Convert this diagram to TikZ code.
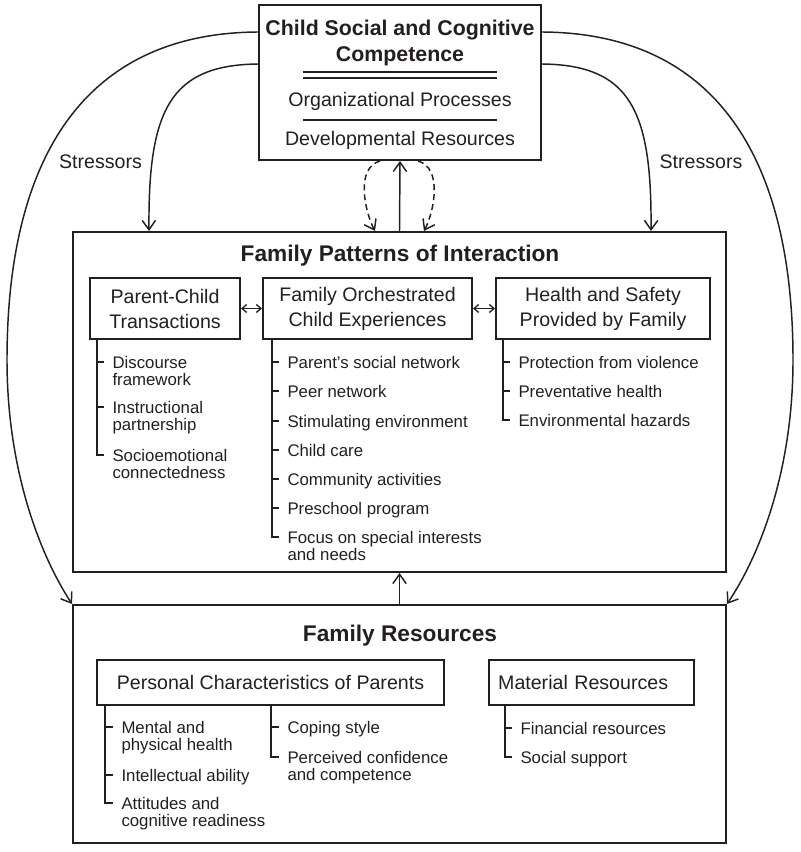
\documentclass[tikz,border=0pt]{standalone}
\usepackage{fontspec}
\setmainfont{Liberation Sans}
\usetikzlibrary{arrows.meta,calc}
\definecolor{ink}{RGB}{35,31,32}
\tikzset{every picture/.style={line width=0.75pt}}
\tikzset{
  panel/.style={draw=ink, line width=1.5pt, inner sep=0pt},
  boxtext/.style={text=ink, inner sep=0pt, align=center, font=\fontsize{14.7}{18.75}\selectfont},
  heading/.style={text=ink, inner sep=0pt, font=\bfseries\fontsize{17}{20}\selectfont},
  listitem/.style={text=ink, inner sep=0pt, anchor=base west, align=left, font=\fontsize{12.6}{12.75}\selectfont},
  rail/.style={draw=ink, line width=1.1pt},
  flow/.style={draw=ink, line width=1.1pt, -{Straight Barb[length=7pt,width=10pt]}},
  twoway/.style={draw=ink, line width=1pt, {Straight Barb[length=3.5pt,width=6pt]}-{Straight Barb[length=3.5pt,width=6pt]}}
}

\begin{document}
\begin{tikzpicture}[x=0.75pt,y=0.75pt,yscale=-1,xscale=1]
\useasboundingbox (0,0) rectangle (800,852);

%Shape: Rectangle
\node [panel, minimum width=211.5pt, minimum height=116.25pt] (top) at (400,82.5) {};
% Text Node
\node [boxtext, font=\bfseries\fontsize{16}{19.5}\selectfont] (competence) at (400,42.5) {Child Social and Cognitive\\Competence};
% Text Node
\node [boxtext, anchor=base] (orgproc) at (400,107) {Organizational Processes};
% Text Node
\node [boxtext, anchor=base] (devres) at (400,146) {Developmental Resources};
%Straight Lines
\draw [rail, line width=0.9pt] (303,72) -- (497,72);
\draw [rail, line width=0.9pt] (303,78) -- (497,78);
\draw [rail, line width=0.9pt] (303,120) -- (497,120);

%Shape: Rectangle
\node [panel, minimum width=489.75pt, minimum height=255pt] (patterns) at (399.5,402) {};
% Text Node
\node [heading, anchor=base] (patternstitle) at (400,262) {Family Patterns of Interaction};
%Shape: Rectangle
\node [panel, boxtext, minimum width=112.5pt, minimum height=45.75pt] (pc) at (165,308.5) {Parent-Child\\Transactions};
%Shape: Rectangle
\node [panel, boxtext, minimum width=156.75pt, minimum height=45.75pt] (foc) at (367.5,308.5) {Family Orchestrated\\Child Experiences};
%Shape: Rectangle
\node [panel, boxtext, minimum width=160.5pt, minimum height=45.75pt] (hs) at (603,308.5) {Health and Safety\\Provided by Family};
%Straight Lines
\draw [twoway] (pc) -- (foc);
\draw [twoway] (foc) -- (hs);

% Text Node (base of a two-line item is its second line)
\node [listitem] (pc1) at (112,385) {Discourse\\framework};
\node [listitem] (pc2) at (112,430) {Instructional\\partnership};
\node [listitem] (pc3) at (112,478) {Socioemotional\\connectedness};
%Straight Lines
\draw [rail] ($(pc.south west)+(8,0)$) |- ($(pc3.base west)+(-8,-23)$);
\draw [rail] ($(pc1.base west)+(-8,-23)$) -- ++(-6,0);
\draw [rail] ($(pc2.base west)+(-8,-23)$) -- ++(-6,0);

% Text Node
\node [listitem] (foc1) at (287,368) {Parent’s social network};
\node [listitem] (foc2) at (287,397) {Peer network};
\node [listitem] (foc3) at (287,427) {Stimulating environment};
\node [listitem] (foc4) at (287,456) {Child care};
\node [listitem] (foc5) at (287,485) {Community activities};
\node [listitem] (foc6) at (287,514) {Preschool program};
\node [listitem] (foc7) at (287,560) {Focus on special interests\\and needs};
%Straight Lines
\draw [rail] ($(foc.south west)+(10,0)$) |- ($(foc7.base west)+(-8,-23)$);
\draw [rail] ($(foc1.base west)+(-8,-6)$) -- ++(-6,0);
\draw [rail] ($(foc2.base west)+(-8,-6)$) -- ++(-6,0);
\draw [rail] ($(foc3.base west)+(-8,-6)$) -- ++(-6,0);
\draw [rail] ($(foc4.base west)+(-8,-6)$) -- ++(-6,0);
\draw [rail] ($(foc5.base west)+(-8,-6)$) -- ++(-6,0);
\draw [rail] ($(foc6.base west)+(-8,-6)$) -- ++(-6,0);

% Text Node
\node [listitem] (hs1) at (518,368) {Protection from violence};
\node [listitem] (hs2) at (518,397) {Preventative health};
\node [listitem] (hs3) at (518,426) {Environmental hazards};
%Straight Lines
\draw [rail] ($(hs.south west)+(8,0)$) |- ($(hs3.base west)+(-8,-6)$);
\draw [rail] ($(hs1.base west)+(-8,-6)$) -- ++(-6,0);
\draw [rail] ($(hs2.base west)+(-8,-6)$) -- ++(-6,0);

%Shape: Rectangle
\node [panel, minimum width=489.75pt, minimum height=178.5pt] (resources) at (399.5,724) {};
% Text Node
\node [heading, anchor=base] (resourcestitle) at (400,641) {Family Resources};
%Shape: Rectangle
\node [panel, boxtext, minimum width=260.25pt, minimum height=33.75pt] (personal) at (270.5,682.5) {Personal Characteristics of Parents};
%Shape: Rectangle
\node [panel, boxtext, minimum width=153.75pt, minimum height=33.75pt, text width=140pt, align=left] (material) at (591.5,682.5) {Material Resources};

% Text Node
\node [listitem] (pa1) at (121,750) {Mental and\\physical health};
\node [listitem] (pa2) at (121,781) {Intellectual ability};
\node [listitem] (pa3) at (121,826) {Attitudes and\\cognitive readiness};
%Straight Lines
\draw [rail] ($(personal.south west)+(9,0)$) |- ($(pa3.base west)+(-8,-23)$);
\draw [rail] ($(pa1.base west)+(-8,-23)$) -- ++(-7,0);
\draw [rail] ($(pa2.base west)+(-8,-6)$) -- ++(-7,0);

% Text Node
\node [listitem] (pb1) at (287,733) {Coping style};
\node [listitem] (pb2) at (287,780) {Perceived confidence\\and competence};
%Straight Lines
\draw [rail] ($(personal.south west)+(175,0)$) |- ($(pb2.base west)+(-8,-23)$);
\draw [rail] ($(pb1.base west)+(-8,-6)$) -- ++(-7,0);

% Text Node
\node [listitem] (ma1) at (520,734) {Financial resources};
\node [listitem] (ma2) at (520,763) {Social support};
%Straight Lines
\draw [rail] ($(material.south west)+(17,0)$) |- ($(ma2.base west)+(-8,-6)$);
\draw [rail] ($(ma1.base west)+(-8,-6)$) -- ++(-6,0);

% Text Node
\node [boxtext, anchor=base] (stressleft) at (100.5,169) {Stressors};
% Text Node
\node [boxtext, anchor=base] (stressright) at (701,169) {Stressors};

%Curve Lines
\draw [flow] ($(top.north west)+(0,28)$) .. controls (90,33) and (7,150) .. (7,360) .. controls (7,470) and (40,555) .. (resources.north west);
%Curve Lines
\draw [flow] ($(top.north west)+(0,60)$) .. controls (170,65) and (148,110) .. ($(patterns.north west)+(77,0)$);
%Curve Lines
\draw [flow] ($(top.north east)+(0,28)$) .. controls (710,33) and (793,150) .. (793,360) .. controls (793,470) and (760,555) .. (resources.north east);
%Curve Lines
\draw [flow] ($(top.north east)+(0,60)$) .. controls (630,65) and (652,110) .. ($(patterns.north east)+(-76,0)$);

%Straight Lines
\draw [flow] (patterns.north) -- (top.south);
%Curve Lines
\draw [flow, dash pattern=on 4.5pt off 3pt] ($(top.south)+(-20,0)$) .. controls (355,168) and (365,212) .. ($(patterns.north)+(-24.5,0)$);
%Curve Lines
\draw [flow, dash pattern=on 4.5pt off 3pt] ($(top.south)+(18,0)$) .. controls (443,168) and (434,212) .. ($(patterns.north)+(24.5,0)$);
%Straight Lines
\draw [flow] (resources.north) -- (patterns.south);
\end{tikzpicture}
\end{document}
